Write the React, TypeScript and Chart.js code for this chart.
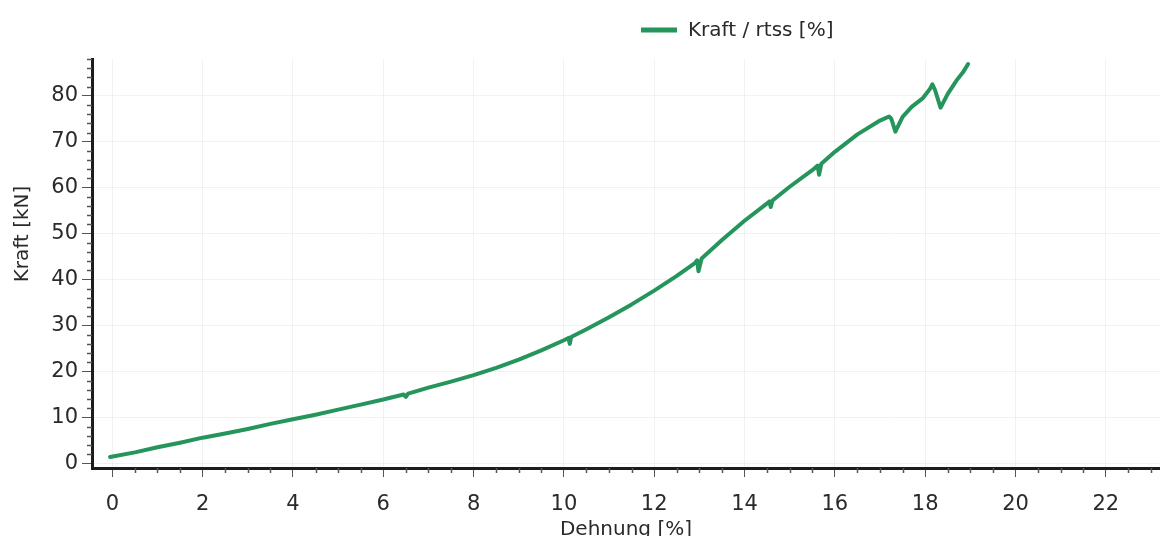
import React, { useEffect, useRef } from 'react';
import { Chart, registerables } from 'chart.js';

Chart.register(...registerables);

// Strain (Dehnung) in %
const strainPct = [
  -0.05, 0.5, 1.0, 1.5, 2.0, 2.5, 3.0, 3.5, 4.0, 4.5, 5.0, 5.5, 6.0, 6.45, 6.5, 6.55,
  7.0, 7.5, 8.0, 8.5, 9.0, 9.5, 10.0, 10.1, 10.13, 10.16, 10.5, 11.0, 11.5, 12.0, 12.5,
  12.9, 12.95, 12.98, 13.05, 13.5, 14.0, 14.5, 14.55, 14.58, 14.62, 15.0, 15.5, 15.62,
  15.65, 15.7, 16.0, 16.5, 17.0, 17.2, 17.25, 17.34, 17.5, 17.7, 17.95, 18.1, 18.16,
  18.22, 18.34, 18.5, 18.7, 18.85, 18.95,
];

// Force (Kraft) in kN
const forceKN = [
  1.4, 2.4, 3.5, 4.5, 5.6, 6.5, 7.5, 8.6, 9.6, 10.6, 11.7, 12.8, 13.9, 15.0, 14.5, 15.2,
  16.5, 17.8, 19.2, 20.8, 22.6, 24.6, 26.8, 27.3, 26.0, 27.5, 29.2, 31.8, 34.6, 37.6, 40.8,
  43.6, 44.2, 41.8, 44.6, 48.6, 52.8, 56.6, 57.0, 55.8, 57.2, 60.2, 63.8, 64.8,
  62.8, 65.2, 67.8, 71.6, 74.6, 75.5, 75.0, 72.2, 75.4, 77.6, 79.5, 81.4, 82.5,
  81.2, 77.4, 80.4, 83.4, 85.3, 86.9,
];

const xTickStep = 2;
const xMinorStep = 0.5;
const yTickStep = 10;
const yMinorStep = 2;
const seriesLabel = 'Kraft / rtss [%]';
const xTitle = 'Dehnung [%]';
const yTitle = 'Kraft [kN]';

const LINE_COLOR = '#25955c';
const TEXT_COLOR = '#2a2a2a';
const FONT = 'DejaVu Sans';

export default function App() {
  const ref = useRef<HTMLCanvasElement>(null);

  useEffect(() => {
    if (!ref.current) return;
    const points = strainPct.map((x, i) => ({ x, y: forceKN[i] }));

    const overlay = {
      id: 'overlay',
      afterDraw(chart: any) {
        const ctx = chart.ctx as CanvasRenderingContext2D;
        const xs = chart.scales.x;
        const ys = chart.scales.y;
        const area = chart.chartArea;
        ctx.save();
        // minor ticks
        ctx.strokeStyle = '#555';
        ctx.lineWidth = 1.5;
        for (let v = Math.ceil(xs.min / xMinorStep) * xMinorStep; v <= xs.max + 1e-9; v += xMinorStep) {
          if (Math.abs(v / xTickStep - Math.round(v / xTickStep)) < 1e-6) continue;
          const px = Math.round(xs.getPixelForValue(v)) + 0.5;
          ctx.beginPath();
          ctx.moveTo(px, area.bottom);
          ctx.lineTo(px, area.bottom + 5);
          ctx.stroke();
        }
        for (let v = Math.ceil(ys.min / yMinorStep) * yMinorStep; v <= ys.max + 1e-9; v += yMinorStep) {
          if (Math.abs(v / yTickStep - Math.round(v / yTickStep)) < 1e-6 && v >= 0 && v <= 80) continue;
          const py = Math.round(ys.getPixelForValue(v)) + 0.5;
          ctx.beginPath();
          ctx.moveTo(area.left, py);
          ctx.lineTo(area.left - 5, py);
          ctx.stroke();
        }
        // y axis title
        ctx.fillStyle = TEXT_COLOR;
        ctx.font = `20px "${FONT}"`;
        ctx.textAlign = 'center';
        ctx.textBaseline = 'middle';
        ctx.translate(23, 234);
        ctx.rotate(-Math.PI / 2);
        ctx.fillText(yTitle, 0, 0);
        ctx.restore();

        // legend
        ctx.save();
        ctx.strokeStyle = LINE_COLOR;
        ctx.lineWidth = 5;
        ctx.beginPath();
        ctx.moveTo(641, 30);
        ctx.lineTo(677, 30);
        ctx.stroke();
        ctx.fillStyle = TEXT_COLOR;
        ctx.font = `20px "${FONT}"`;
        ctx.textAlign = 'left';
        ctx.textBaseline = 'middle';
        ctx.fillText(seriesLabel, 688, 31);
        ctx.restore();
      },
    };

    const chart = new Chart(ref.current, {
      type: 'line',
      data: {
        datasets: [
          {
            label: seriesLabel,
            data: points,
            borderColor: LINE_COLOR,
            backgroundColor: LINE_COLOR,
            borderWidth: 4,
            pointRadius: 0,
            tension: 0,
            fill: false,
            borderJoinStyle: 'round',
            borderCapStyle: 'round',
          },
        ],
      },
      options: {
        animation: false,
        responsive: false,
        maintainAspectRatio: false,
        layout: { padding: { top: 59, left: 0, right: 0, bottom: 0 } },
        plugins: {
          legend: { display: false },
          tooltip: { enabled: false },
        },
        scales: {
          x: {
            type: 'linear',
            min: -0.45,
            max: 23.2,
            afterFit: (s: any) => {
              s.height = 78;
            },
            ticks: {
              stepSize: xTickStep,
              includeBounds: false,
              maxTicksLimit: 30,
              autoSkip: false,
              color: TEXT_COLOR,
              font: { family: FONT, size: 21 },
              padding: 15,
              maxRotation: 0,
            },
            grid: {
              color: 'rgba(0,0,0,0.05)',
              tickColor: '#555',
              tickLength: 9,
              lineWidth: 1,
            },
            border: { color: '#1c1c1c', width: 3 },
            title: {
              display: true,
              text: xTitle,
              color: TEXT_COLOR,
              font: { family: FONT, size: 20 },
              padding: { top: 0, bottom: 4 },
            },
          },
          y: {
            type: 'linear',
            min: -1,
            max: 88,
            afterFit: (s: any) => {
              s.width = 92;
            },
            ticks: {
              stepSize: yTickStep,
              includeBounds: false,
              color: TEXT_COLOR,
              font: { family: FONT, size: 21 },
              padding: 4,
            },
            grid: {
              color: 'rgba(0,0,0,0.05)',
              tickColor: '#555',
              tickLength: 10,
              lineWidth: 1,
            },
            border: { color: '#1c1c1c', width: 3 },
          },
        },
      },
      plugins: [overlay],
    });

    return () => chart.destroy();
  }, []);

  return (
    <div
      style={{
        position: 'fixed',
        left: 0,
        top: 0,
        width: 1160,
        height: 536,
        overflow: 'hidden',
        background: '#fff',
      }}
    >
      <canvas ref={ref} width={1160} height={546} style={{ display: 'block', width: 1160, height: 546 }} />
    </div>
  );
}
